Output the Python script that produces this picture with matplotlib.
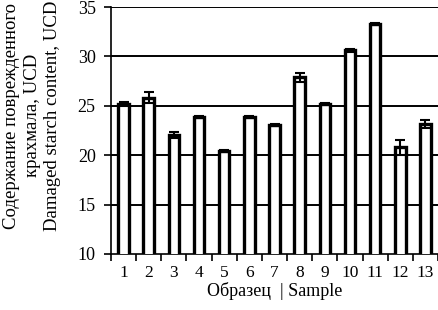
import matplotlib
matplotlib.use("Agg")
import matplotlib.pyplot as plt
import numpy as np

samples = ["1", "2", "3", "4", "5", "6", "7", "8", "9", "10", "11", "12", "13"]
values = [25.2, 25.8, 22.0, 23.9, 20.4, 23.9, 23.1, 27.9, 25.2, 30.6, 33.3, 20.8, 23.2]
errors = [0.2, 0.55, 0.3, 0.1, 0.1, 0.1, 0.1, 0.45, 0.1, 0.15, 0.1, 0.75, 0.4]
yticks = [10, 15, 20, 25, 30, 35]

plt.rcParams['font.family'] = ['Liberation Serif', 'DejaVu Serif']

fig = plt.figure(figsize=(4.39, 3.10), dpi=100)
ax = fig.add_axes([111/439, 56/310, 327/439, 247/310])

x = np.arange(1, len(samples) + 1)
ax.bar(x, values, width=0.42, color='white', edgecolor='black', linewidth=2.4, zorder=3)
ax.errorbar(x, values, yerr=errors, fmt='none', ecolor='black', elinewidth=1.5,
            capsize=3.5, capthick=1.5, zorder=4)

ax.set_ylim(10, 35)
ax.set_xlim(0.5, len(samples) + 0.5)
ax.set_yticks(yticks)
ax.set_yticklabels([str(t) for t in yticks], fontsize=13)
for t in yticks[1:]:
    ax.axhline(t, color='black', linewidth=1.4, zorder=1)

ax.set_xticks(np.arange(0.5, len(samples) + 1, 1.0))
ax.set_xticklabels([])
ax.set_xticks(x, minor=True)
ax.set_xticklabels(samples, minor=True, fontsize=12.5)
ax.tick_params(axis='x', which='major', direction='out', length=5, width=1.2)
ax.tick_params(axis='x', which='minor', length=0, pad=8)
ax.tick_params(axis='y', direction='out', length=5, width=1.2, pad=6)

for s in ['top', 'right']:
    ax.spines[s].set_visible(False)
for s in ['left', 'bottom']:
    ax.spines[s].set_linewidth(1.2)

ax.set_xlabel("Образец  | Sample", fontsize=13, labelpad=1)
ax.set_ylabel("Содержание поврежденного\nкрахмала, UCD\nDamaged starch content, UCD",
              fontsize=13.5, linespacing=1.25)
ax.yaxis.set_label_coords(-0.153, 0.56)

fig.savefig("out.png", dpi=100)
